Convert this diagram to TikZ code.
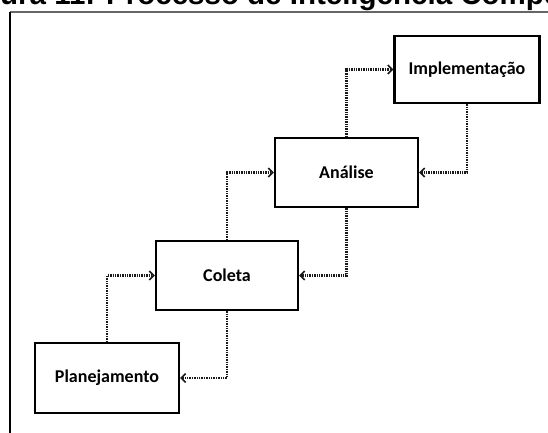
\documentclass[tikz,border=0pt]{standalone}
\usepackage{fontspec}
\setmainfont{Carlito}
\newfontfamily\titlefont{Liberation Sans}
\usetikzlibrary{arrows.meta}
\begin{document}
\begin{tikzpicture}[x=1pt,y=-1pt,
  stage/.style={draw=black,line width=2.2pt,fill=white,inner sep=0pt,font=\bfseries\fontsize{18}{21}\selectfont},
  flow/.style={line width=2.2pt,black!90,dash pattern=on 1.4pt off 1pt,
    -{Straight Barb[length=4.5pt,width=9pt,line width=1.6pt]}}]
  \clip (0,0) rectangle (548,432);
  \useasboundingbox (0,0) rectangle (548,432);
  \fill[white] (0,0) rectangle (548,432);
  % caption, cut at the top edge
  \node[anchor=base west,inner sep=0pt,font=\titlefont\bfseries\fontsize{29.5}{32}\selectfont] (title) at (0,4)
    {\llap{Fig}ura 11: Processo de Inteligência Compe\rlap{titiva}};
  % frame
  \coordinate (ftl) at (9.5,11.5);
  \coordinate (ftr) at (560,11.5);
  \coordinate (fbl) at (9.5,440);
  \draw[line width=2pt,black!60] (ftl) -- (ftr);
  \draw[line width=2pt,black] (ftl) -- (fbl);
  % stages
  \node[stage,minimum width=144pt,minimum height=70pt] (plan) at (107,378) {Planejamento};
  \node[stage,minimum width=142pt,minimum height=69pt] (col) at (227,275.5) {Coleta};
  \node[stage,minimum width=143pt,minimum height=69pt] (ana) at (346.5,172.5) {Análise};
  \node[stage,minimum width=145pt,minimum height=67pt] (imp) at (467,69.5) {Implementação};
  % forward flow
  \draw[flow] (plan.north) |- (col.west);
  \draw[flow] (col.north) |- (ana.west);
  \draw[flow] (ana.north) |- (imp.west);
  % feedback flow
  \draw[flow] (imp.south) |- (ana.east);
  \draw[flow] (ana.south) |- (col.east);
  \draw[flow] (col.south) |- (plan.east);
\end{tikzpicture}
\end{document}
